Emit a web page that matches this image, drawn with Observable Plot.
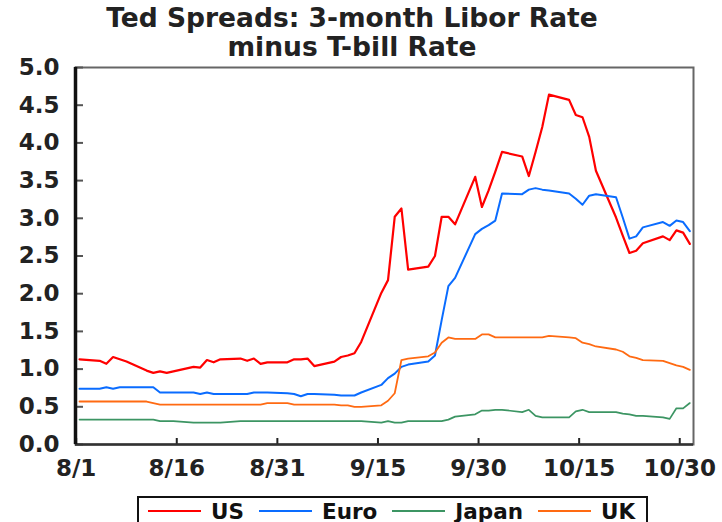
<!DOCTYPE html>
<html><head><meta charset="utf-8">
<script src="https://cdn.jsdelivr.net/npm/d3@7"></script>
<script src="https://cdn.jsdelivr.net/npm/@observablehq/plot@0.6"></script>
<style>
body{margin:0;background:#fff;font-family:"DejaVu Sans",sans-serif;font-weight:bold;color:#222;}
#wrap{position:relative;width:722px;height:522px;overflow:hidden;background:#fff;}
#title{position:absolute;left:0;top:3px;width:704px;text-align:center;font-size:26.5px;line-height:29px;color:#222;}
#chart{position:absolute;left:0;top:56px;}
#legend{position:absolute;left:137px;top:496px;width:498px;height:26px;border:2px solid #111;border-bottom:none;display:flex;align-items:center;padding-left:9px;box-sizing:content-box;font-size:21.5px;color:#111;}
#legend .it{display:flex;align-items:center;margin-right:15px;}
#legend .ln{display:inline-block;width:53px;height:2px;margin-right:10px;}
</style></head>
<body>
<div id="wrap">
<div id="title">Ted Spreads: 3-month Libor Rate<br>minus T-bill Rate</div>
<div id="chart"></div>
<div id="legend"></div>
</div>
<script>
const dates = ["2008-08-01","2008-08-04","2008-08-05","2008-08-06","2008-08-07","2008-08-08","2008-08-11","2008-08-12","2008-08-13","2008-08-14",
"2008-08-15","2008-08-18","2008-08-19","2008-08-20","2008-08-21","2008-08-22","2008-08-25","2008-08-26","2008-08-27","2008-08-28",
"2008-08-29","2008-09-01","2008-09-02","2008-09-03","2008-09-04","2008-09-05","2008-09-08","2008-09-09","2008-09-10","2008-09-11",
"2008-09-12","2008-09-15","2008-09-16","2008-09-17","2008-09-18","2008-09-19","2008-09-22","2008-09-23","2008-09-24","2008-09-25",
"2008-09-26","2008-09-29","2008-09-30","2008-10-01","2008-10-02","2008-10-03","2008-10-06","2008-10-07","2008-10-08","2008-10-09",
"2008-10-10","2008-10-13","2008-10-14","2008-10-15","2008-10-16","2008-10-17","2008-10-20","2008-10-21","2008-10-22","2008-10-23",
"2008-10-24","2008-10-27","2008-10-28","2008-10-29","2008-10-30","2008-10-31"];

const us = [1.13,1.11,1.07,1.16,1.13,1.10,0.98,0.95,0.97,0.95,
0.97,1.03,1.02,1.12,1.09,1.13,1.14,1.11,1.14,1.07,
1.09,1.09,1.13,1.13,1.14,1.04,1.10,1.16,1.18,1.21,
1.36,2.01,2.18,3.02,3.13,2.32,2.36,2.50,3.02,3.02,
2.92,3.55,3.15,3.37,3.62,3.88,3.82,3.56,3.88,4.21,
4.64,4.57,4.37,4.34,4.08,3.63,3.01,2.77,2.54,2.57,
2.67,2.76,2.71,2.84,2.81,2.66];

const euro = [0.74,0.74,0.76,0.74,0.76,0.76,0.76,0.76,0.69,0.69,
0.69,0.69,0.67,0.69,0.67,0.67,0.67,0.67,0.69,0.69,
0.69,0.68,0.67,0.64,0.67,0.67,0.66,0.65,0.65,0.65,
0.69,0.79,0.88,0.94,1.03,1.06,1.10,1.18,1.65,2.10,
2.21,2.79,2.86,2.91,2.97,3.33,3.32,3.38,3.40,3.38,
3.37,3.33,3.26,3.18,3.30,3.32,3.28,3.01,2.73,2.76,
2.88,2.95,2.90,2.97,2.95,2.83];

const japan = [0.33,0.33,0.33,0.33,0.33,0.33,0.33,0.33,0.31,0.31,
0.31,0.29,0.29,0.29,0.29,0.29,0.31,0.31,0.31,0.31,
0.31,0.31,0.31,0.31,0.31,0.31,0.31,0.31,0.31,0.31,
0.31,0.29,0.31,0.29,0.29,0.31,0.31,0.31,0.31,0.33,
0.37,0.40,0.45,0.45,0.46,0.46,0.43,0.46,0.38,0.36,
0.36,0.36,0.44,0.46,0.43,0.43,0.43,0.41,0.40,0.38,
0.38,0.36,0.34,0.48,0.48,0.55];

const uk = [0.57,0.57,0.57,0.57,0.57,0.57,0.57,0.55,0.53,0.53,
0.53,0.53,0.53,0.53,0.53,0.53,0.53,0.53,0.53,0.53,
0.55,0.55,0.53,0.53,0.53,0.53,0.53,0.52,0.52,0.50,
0.50,0.52,0.58,0.68,1.12,1.14,1.17,1.22,1.35,1.42,
1.40,1.40,1.46,1.46,1.42,1.42,1.42,1.42,1.42,1.42,
1.44,1.42,1.41,1.35,1.33,1.30,1.26,1.23,1.17,1.15,
1.12,1.11,1.08,1.05,1.03,0.99];

const seriesNames = ["US","Euro","Japan","UK"];
const seriesColors = ["#ff0000","#0a6cff","#3c9563","#ff6a12"];
const seriesWidths = [2.2,2,1.7,1.8];
const seriesValues = [us, euro, japan, uk];

const yTicks = [0,0.5,1,1.5,2,2.5,3,3.5,4,4.5,5];
const xTickLabels = ["2008-08-01","2008-08-16","2008-08-31","2008-09-15","2008-09-30","2008-10-15","2008-10-30"];

const parse = d3.utcParse("%Y-%m-%d");
const HALF = 12*3600*1000;
const xStart = new Date(Date.UTC(2008,6,31,9,36));
const xEnd = new Date(Date.UTC(2008,9,31,13,12));
const xTicks = xTickLabels.map(s => new Date(+parse(s) - HALF));

const rows = [];
seriesNames.forEach((name, k) => {
  seriesValues[k].forEach((v, i) => rows.push({series: name, date: parse(dates[i]), value: v}));
});

const lineMarks = seriesNames.map((name, k) =>
  Plot.line(rows.filter(r => r.series === name), {x: "date", y: "value", stroke: seriesColors[k], strokeWidth: seriesWidths[k], curve: "linear"})
);

const chart = Plot.plot({
  width: 722, height: 428,
  marginLeft: 75, marginRight: 29, marginTop: 11, marginBottom: 40,
  style: {fontFamily: "DejaVu Sans", fontWeight: "bold", fontSize: "23px", color: "#222", background: "white", overflow: "visible"},
  x: {type: "utc", domain: [xStart, xEnd]},
  y: {domain: [0, 5]},
  marks: [
    Plot.frame({stroke: "#666", strokeWidth: 2}),
    Plot.axisY(yTicks, {tickSize: 8, dx: 8, tickPadding: 16, tickFormat: d => d.toFixed(1), label: null, stroke: "#555", strokeWidth: 2, fill: "#222"}),
    Plot.axisX(xTicks, {anchor: "bottom", tickSize: 6, dy: -6, tickPadding: 15, label: null, stroke: "#222", strokeWidth: 2, fill: "#222",
      tickFormat: d => { const t = new Date(+d + HALF); return (t.getUTCMonth()+1) + "/" + t.getUTCDate(); }}),
    ...lineMarks,
    Plot.ruleY([0], {stroke: "#333", strokeWidth: 2.5}),
    Plot.ruleX([xStart], {stroke: "#111", strokeWidth: 3.5})
  ]
});
document.getElementById("chart").appendChild(chart);

const legend = document.getElementById("legend");
seriesNames.forEach((name, k) => {
  const it = document.createElement("div");
  it.className = "it";
  const ln = document.createElement("span");
  ln.className = "ln";
  ln.style.background = seriesColors[k];
  it.appendChild(ln);
  it.appendChild(document.createTextNode(name));
  legend.appendChild(it);
});
</script>
</body></html>
